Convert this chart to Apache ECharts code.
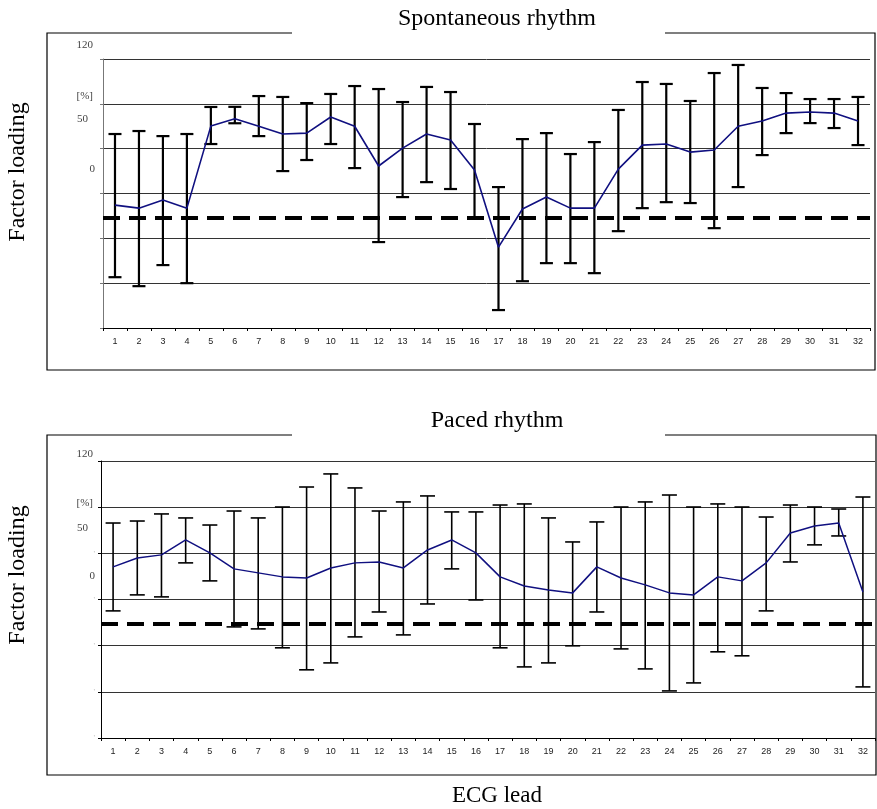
<!DOCTYPE html>
<html>
<head>
<meta charset="utf-8">
<script src="https://cdn.jsdelivr.net/npm/echarts@6/dist/echarts.min.js"></script>
<style>
html,body{margin:0;padding:0;background:#fff;}
#chart{width:877px;height:809px;}
</style>
</head>
<body>
<div id="chart"></div>
<script>
// ---------- data ----------
const categories = ['1','2','3','4','5','6','7','8','9','10','11','12','13','14','15','16','17','18','19','20','21','22','23','24','25','26','27','28','29','30','31','32'];

const spontMean  = [22.2,20.2,25.6,20.2,75.1,80,75,69.8,70.4,81.2,75,48.4,60.4,69.8,65.8,45.7,-5.9,19.6,27.6,20.2,20.2,46.3,62.4,63.1,57.7,59.1,75,78.5,83.8,84.5,83.8,78.5];
const spontUpper = [69.8,71.8,68.4,69.8,87.9,88,95.2,94.6,90.5,96.6,101.9,99.9,91.2,101.3,97.9,76.5,34.3,66.4,70.4,56.4,64.4,85.9,104.6,103.3,91.9,110.6,116,100.6,97.2,93.2,93.2,94.6];
const spontLower = [-26,-32,-17.9,-30,63.1,77,68.4,45,52.4,63.1,47,-2.5,27.6,37.6,33,13.5,-48,-28.7,-16.6,-16.6,-23.3,4.8,20.2,24.2,23.6,6.8,34.3,55.7,70.4,77.1,73.8,62.4];

const pacedMean  = [51.2,57,59,68.7,60.3,49.9,47.3,44.7,44,50.5,53.8,54.4,50.5,62.2,68.7,60.3,44.7,38.8,36.2,34.3,51.2,44,39.5,34.3,33,44.7,42.1,53.8,73.2,77.8,79.7,34.9];
const pacedUpper = [79.7,81,85.6,83,78.4,87.5,83,90.1,103.1,111.6,102.5,87.5,93.4,97.3,86.9,86.9,91.4,92.1,83,67.4,80.4,90.1,93.4,97.9,90.1,92.1,90.1,83.6,91.4,90.1,88.8,96.6];
const pacedLower = [22.6,33,31.7,53.8,42.1,12.2,10.9,-1.4,-15.7,-11.2,5.7,21.9,7,27.1,49.9,29.7,-1.4,-13.8,-11.2,-0.1,21.9,-2.1,-15.1,-29.4,-24.2,-4,-6.6,22.6,54.4,65.5,71.3,-26.8];

const spontThreshold = 13.5;
const pacedThreshold = 14.1;

const yTickTexts = ['120','[%]','50','0'];
const panelTitles = ['Spontaneous rhythm','Paced rhythm'];
const yTitle = 'Factor loading';
const xTitle = 'ECG lead';

// ---------- chart ----------
const chart = echarts.init(document.getElementById('chart'), null, {renderer:'canvas'});

function errData(lo, hi){ return lo.map((v,i)=>[i, v, hi[i]]); }

function errRender(capHalf, lw){
  return function(params, api){
    const idx = api.value(0);
    const lo = api.coord([idx, api.value(1)]);
    const hi = api.coord([idx, api.value(2)]);
    const st = {stroke:'#000', lineWidth:lw};
    return {type:'group', children:[
      {type:'line', shape:{x1:lo[0],y1:lo[1],x2:hi[0],y2:hi[1]}, style:st},
      {type:'line', shape:{x1:lo[0]-capHalf,y1:lo[1],x2:lo[0]+capHalf,y2:lo[1]}, style:st},
      {type:'line', shape:{x1:hi[0]-capHalf,y1:hi[1],x2:hi[0]+capHalf,y2:hi[1]}, style:st}
    ]};
  };
}

const serif = 'Liberation Serif, Times New Roman, serif';
const sans = 'Liberation Sans, Arial, sans-serif';

function yAxisCfg(gi, axisColor, tickMarks){
  return {
    type:'value', gridIndex:gi, min:-60, max:120, interval:30,
    axisLine:{show:true, onZero:false, lineStyle:{color:axisColor, width:1}},
    axisTick:{show:true, length:3, lineStyle:{color:axisColor}},
    axisLabel:{show:tickMarks, fontSize:8, color:'#bbb', margin:6,
      formatter: v => (v <= 60 ? "'" : '')},
    splitLine:{show:true, lineStyle:{color:'#333', width:1}}
  };
}
function xAxisCfg(gi){
  return {
    type:'category', gridIndex:gi, data:categories, boundaryGap:true,
    axisLine:{show:true, onZero:false, lineStyle:{color:'#000', width:1}},
    axisTick:{show:true, interval:0, length:3, lineStyle:{color:'#000'}},
    axisLabel:{interval:0, fontSize:9, fontFamily:sans, color:'#222', margin:9}
  };
}

function lbl(text, x, y, align){
  return {type:'text', x:x, y:y, style:{text:text, font:'11px '+serif, fill:'#444', textAlign:align||'right', textVerticalAlign:'middle'}};
}

const graphics = [
  // top frame
  {type:'polyline', shape:{points:[[292,33],[47,33],[47,370],[875,370],[875,33],[665,33]]}, style:{stroke:'#000', lineWidth:1.2, fill:null}},
  // bottom frame
  {type:'polyline', shape:{points:[[292,435],[47,435],[47,775],[876,775],[876,435],[665,435]]}, style:{stroke:'#000', lineWidth:1.2, fill:null}},
  {type:'text', x:497, y:19, style:{text:panelTitles[0], font:'24px '+serif, fill:'#000', textAlign:'center', textVerticalAlign:'middle'}},
  {type:'text', x:497, y:421, style:{text:panelTitles[1], font:'24px '+serif, fill:'#000', textAlign:'center', textVerticalAlign:'middle'}},
  {type:'text', x:497, y:796, style:{text:xTitle, font:'23px '+serif, fill:'#000', textAlign:'center', textVerticalAlign:'middle'}},
  {type:'text', x:18, y:172, rotation:Math.PI/2, style:{text:yTitle, font:'24px '+serif, fill:'#000', textAlign:'center', textVerticalAlign:'middle'}},
  {type:'text', x:18, y:575, rotation:Math.PI/2, style:{text:yTitle, font:'24px '+serif, fill:'#000', textAlign:'center', textVerticalAlign:'middle'}},
  lbl(yTickTexts[0], 93, 45), lbl(yTickTexts[1], 93, 96), lbl(yTickTexts[2], 88, 119), lbl(yTickTexts[3], 95, 169),
  lbl(yTickTexts[0], 93, 454), lbl(yTickTexts[1], 93, 503), lbl(yTickTexts[2], 88, 528), lbl(yTickTexts[3], 95, 576)
];

function markCfg(v){
  return {silent:true, symbol:['none','none'], label:{show:false},
    lineStyle:{color:'#000', width:4, type:[17,9]}, data:[{yAxis:v}]};
}

chart.setOption({
  animation:false,
  backgroundColor:'#fff',
  grid:[
    {left:103, top:59, width:767, height:269, containLabel:false},
    {left:101, top:461, width:774, height:277, containLabel:false}
  ],
  xAxis:[xAxisCfg(0), xAxisCfg(1)],
  yAxis:[yAxisCfg(0,'#777',false), yAxisCfg(1,'#000',true)],
  graphic: graphics,
  series:[
    {type:'custom', xAxisIndex:0, yAxisIndex:0, renderItem:errRender(6.5,2.2), data:errData(spontLower, spontUpper), encode:{x:0, y:[1,2]}, z:3},
    {type:'line', xAxisIndex:0, yAxisIndex:0, data:spontMean, showSymbol:false, symbol:'none', lineStyle:{color:'#101080', width:1.6}, z:4, markLine:markCfg(spontThreshold)},
    {type:'custom', xAxisIndex:1, yAxisIndex:1, renderItem:errRender(7.5,1.6), data:errData(pacedLower, pacedUpper), encode:{x:0, y:[1,2]}, z:3},
    {type:'line', xAxisIndex:1, yAxisIndex:1, data:pacedMean, showSymbol:false, symbol:'none', lineStyle:{color:'#101080', width:1.5}, z:4, markLine:markCfg(pacedThreshold)}
  ]
});
</script>
</body>
</html>
